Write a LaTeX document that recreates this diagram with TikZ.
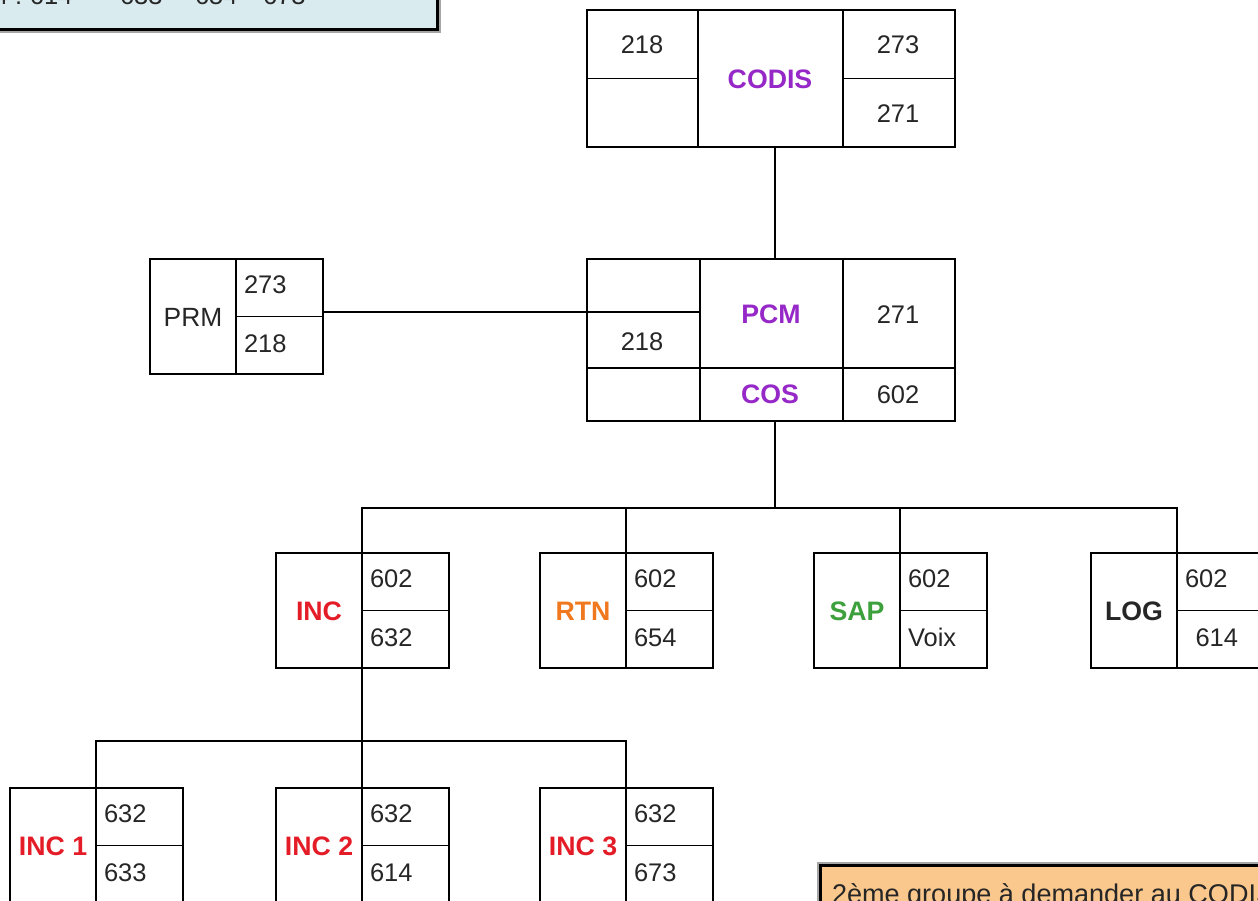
\documentclass[tikz,border=0pt]{standalone}
\usepackage{fontspec}
\setmainfont{Liberation Sans}
\usetikzlibrary{calc}
\definecolor{cpurple}{RGB}{150,40,200}
\definecolor{cred}{RGB}{228,28,40}
\definecolor{corange}{RGB}{240,120,30}
\definecolor{cgreen}{RGB}{60,160,60}
\definecolor{cblue}{RGB}{218,235,240}
\definecolor{corangefill}{RGB}{250,200,140}
\newcommand\fs{\fontsize{14.5}{17}\selectfont}
\newcommand\fsb{\fontsize{15.2}{18}\selectfont\bfseries}
\tikzset{
  ln/.style={line width=1pt, black},
  boxn/.style={draw, line width=1pt, rectangle, inner sep=0pt, outer sep=0pt, anchor=north west},
  txt/.style={inner sep=0pt, outer sep=0pt, font=\fs, text height=10.4pt, text depth=0pt, text=black!85},
  lbl/.style={txt, font=\fsb, text height=10.9pt},
  notebox/.style={draw, line width=2.2pt, rectangle, inner sep=0pt, outer sep=0pt},
  shadowbox/.style={fill=black!35, rectangle, inner sep=0pt, outer sep=0pt},
  notetxt/.style={inner sep=0pt, outer sep=0pt, font=\fs, anchor=base west, text=black!85}
}
\newcommand\tbox[7]{%
  \node[boxn, minimum width=3.46cm, minimum height=2.3cm] (#1) at (#2,#3) {};
  \coordinate (#1-d) at ($(#1.north west)+(86,0)$);
  \coordinate (#1-db) at ($(#1.south west)+(86,0)$);
  \draw[ln] (#1-d) -- (#1-db);
  \draw[ln] ($(#1.west)+(86,0)$) -- (#1.east);
  \node[lbl, #5] (#1-l) at ($(#1.west)+(43,0)$) {#4};
  \node[txt, anchor=west] (#1-v1) at ($(#1.north west)+(94,25)$) {#6};
  \node[txt, anchor=west] (#1-v2) at ($(#1.north west)+(94,84)$) {#7};
}
\begin{document}
\begin{tikzpicture}[x=0.02cm, y=-0.02cm]
\useasboundingbox (0,0) rectangle (1258,900);

% top-left note (cut off)
\node[shadowbox, minimum width=9.2cm, minimum height=1.9cm, anchor=south east] (legsh) at (441,33) {};
\node[notebox, fill=cblue, minimum width=9.2cm, minimum height=1.9cm, anchor=south east] (legend) at (437.5,29.5) {};
\node[notetxt] (lg0) at (-6,4) {4 :};
\node[notetxt] (lg1) at (30,4) {614};
\node[notetxt] (lgd1) at (96,4) {-};
\node[notetxt] (lg2) at (120,4) {633};
\node[notetxt] (lgd2) at (176,4) {-};
\node[notetxt] (lg3) at (195,4) {654};
\node[notetxt] (lgd3) at (246,4) {-};
\node[notetxt] (lg4) at (263,4) {673};

% bottom-right note (cut off)
\node[shadowbox, minimum width=10cm, minimum height=2cm, anchor=north west] (notesh) at (817,862) {};
\node[notebox, fill=corangefill, minimum width=10cm, minimum height=2cm, anchor=north west] (note) at (820.5,865.5) {};
\node[notetxt, font=\fontsize{15.4}{18}\selectfont] (notet) at (832,903) {2ème groupe à demander au CODIS};

% CODIS
\node[boxn, minimum width=7.36cm, minimum height=2.74cm] (codis) at (587,10) {};
\draw[ln] ($(codis.north west)+(111,0)$) -- ($(codis.south west)+(111,0)$);
\draw[ln] ($(codis.north west)+(256,0)$) -- ($(codis.south west)+(256,0)$);
\draw[ln] (codis.west) -- ($(codis.west)+(111,0)$);
\draw[ln] ($(codis.west)+(256,0)$) -- (codis.east);
\node[txt] (codis-a) at ($(codis.north west)+(55,34)$) {218};
\node[lbl, text=cpurple] (codis-l) at ($(codis.north west)+(183,69)$) {CODIS};
\node[txt] (codis-b) at ($(codis.north west)+(311,34)$) {273};
\node[txt] (codis-c) at ($(codis.north west)+(311,103)$) {271};

% PCM / COS
\node[boxn, minimum width=7.36cm, minimum height=3.24cm] (pcm) at (587,259) {};
\draw[ln] ($(pcm.north west)+(113,0)$) -- ($(pcm.south west)+(113,0)$);
\draw[ln] ($(pcm.north west)+(256,0)$) -- ($(pcm.south west)+(256,0)$);
\draw[ln] ($(pcm.north west)+(0,109)$) -- ($(pcm.north east)+(0,109)$);
\coordinate (pcmport) at ($(pcm.north west)+(0,53)$);
\draw[ln] (pcmport) -- ($(pcmport)+(113,0)$);
\node[txt] (pcm-a) at ($(pcm.north west)+(55,82)$) {218};
\node[lbl, text=cpurple] (pcm-l) at ($(pcm.north west)+(184,55)$) {PCM};
\node[txt] (pcm-b) at ($(pcm.north west)+(311,55)$) {271};
\node[lbl, text=cpurple] (cos-l) at ($(pcm.north west)+(183,135)$) {COS};
\node[txt] (pcm-c) at ($(pcm.north west)+(311,135)$) {602};

% two-cell boxes
\tbox{prm}{150}{259}{PRM}{font=\fontsize{15}{18}\selectfont}{273}{218}
\tbox{inc}{276}{553}{INC}{text=cred}{602}{632}
\tbox{rtn}{540}{553}{RTN}{text=corange}{602}{654}
\tbox{sap}{814}{553}{SAP}{text=cgreen}{602}{Voix}
\tbox{log}{1091}{553}{LOG}{}{602}{\hspace{6pt}614}
\tbox{incA}{10}{788}{INC 1}{text=cred}{632}{633}
\tbox{incB}{276}{788}{INC 2}{text=cred}{632}{614}
\tbox{incC}{540}{788}{INC 3}{text=cred}{632}{673}

% connectors
\coordinate (bus1) at (775,508);
\coordinate (bus2) at (362,741);
\draw[ln] (codis.south -| bus1) -- (pcm.north -| bus1);
\draw[ln] (prm.east |- pcmport) -- (pcmport);
\draw[ln] (pcm.south -| bus1) -- (bus1);
\draw[ln] (inc-d) |- (bus1) -| (log-d);
\draw[ln] (rtn-d) -- (rtn-d |- bus1);
\draw[ln] (sap-d) -- (sap-d |- bus1);
\draw[ln] (inc-db) -- (incB-d);
\draw[ln] (incA-d) |- (bus2) -| (incC-d);
\end{tikzpicture}
\end{document}
